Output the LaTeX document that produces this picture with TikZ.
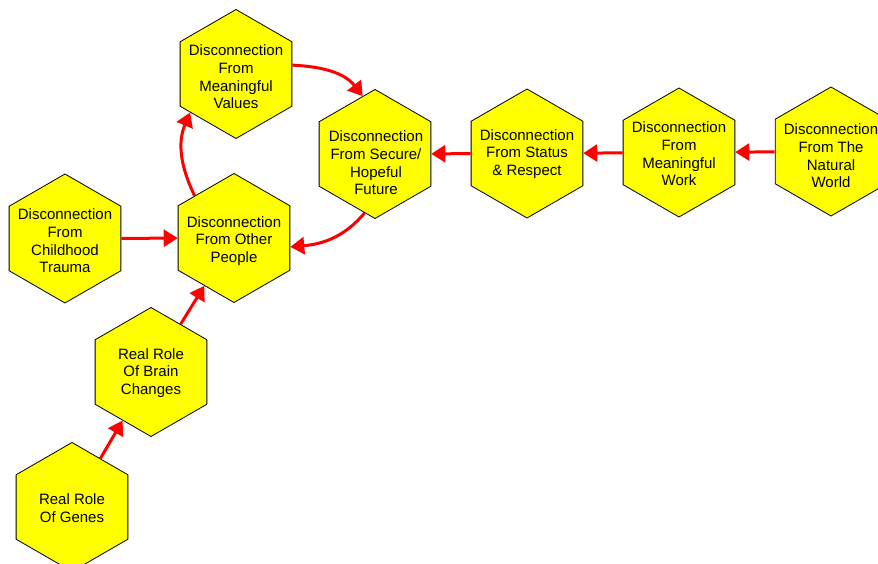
\documentclass[tikz,border=0pt]{standalone}
\usepackage{fontspec}
\setmainfont{Liberation Sans}
\usetikzlibrary{shapes.geometric,arrows.meta}
\definecolor{hexyellow}{RGB}{255,255,0}
\definecolor{linkred}{RGB}{255,0,0}
\begin{document}
\begin{tikzpicture}[x=1pt,y=-1pt,
  hexcell/.style={regular polygon, regular polygon sides=6, shape border rotate=30,
    minimum size=129pt, inner sep=0pt, draw=black, line width=0.8pt, fill=hexyellow},
  hextext/.style={align=center, font=\fontsize{15}{17.6}\selectfont, text=black, inner sep=0pt},
  link/.style={draw=linkred, line width=3pt, -{Triangle[length=14pt,width=17pt]}}
]
\useasboundingbox (0,0) rectangle (878,564);
\fill[white] (0,0) rectangle (878,564);
\clip (0,0) rectangle (878,564);

% hexagonal cells
\node[hexcell] (values)    at (236,74)  {};
\node[hexcell] (secure)    at (375,154) {};
\node[hexcell] (other)     at (234,238) {};
\node[hexcell] (childhood) at (65,238.5)  {};
\node[hexcell] (brain)     at (151,372) {};
\node[hexcell] (genes)     at (72,507)  {};
\node[hexcell] (status)    at (527,153.5) {};
\node[hexcell] (work)      at (679,152.5) {};
\node[hexcell] (natural)   at (831,151.5) {};

% cell captions
\node[hextext] (values-t)    at (236,77)  {Disconnection\\From\\Meaningful\\Values};
\node[hextext] (secure-t)    at (376,163) {Disconnection\\From Secure/\\Hopeful\\Future};
\node[hextext] (other-t)     at (234,241) {Disconnection\\From Other\\People};
\node[hextext] (childhood-t) at (65,241)  {Disconnection\\From\\Childhood\\Trauma};
\node[hextext] (brain-t)     at (151,373) {Real Role\\Of Brain\\Changes};
\node[hextext] (genes-t)     at (72,508)  {Real Role\\Of Genes};
\node[hextext] (status-t)    at (527,154) {Disconnection\\From Status\\\& Respect};
\node[hextext] (work-t)      at (679,154) {Disconnection\\From\\Meaningful\\Work};
\node[hextext] (natural-t)   at (831,156) {Disconnection\\From The\\Natural\\World};

% straight links
\draw[link] (childhood) -- (other);
\draw[link] (brain) -- (other);
\draw[link] (genes) -- (brain);
\draw[link] (status) -- (secure);
\draw[link] (work) -- (status);
\draw[link] (natural) -- (work);

% curved loop
\draw[link] (other.133) to[out=116,in=247] (values.220);
\draw[link] (values.9) to[out=-3,in=128] (secure.102);
\draw[link] (secure.260) to[out=230,in=5] (other.351);
\end{tikzpicture}
\end{document}
